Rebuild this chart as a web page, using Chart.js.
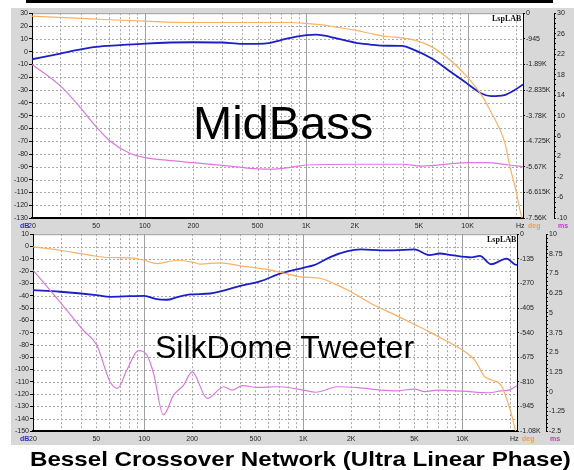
<!DOCTYPE html>
<html>
<head>
<meta charset="utf-8">
<script src="https://cdn.jsdelivr.net/npm/chart.js@4.4.1/dist/chart.umd.min.js"></script>
<style>
  html,body{margin:0;padding:0;background:#fff;}
  body{width:574px;height:470px;position:relative;overflow:hidden;font-family:"Liberation Sans",Arial,sans-serif;}
  .abs{position:absolute;white-space:nowrap;line-height:1;}
  canvas{position:absolute;}
</style>
</head>
<body>
<div class="abs" style="left:26px;top:0;width:527px;height:3px;background:#000"></div>
<div class="abs" style="left:11px;top:8px;width:563px;height:437px;background:#d8d8d8"></div>
<canvas id="c1" width="563" height="223" style="left:11px;top:8px;width:563px;height:223px"></canvas>
<canvas id="c2" width="563" height="216" style="left:11px;top:229px;width:563px;height:216px"></canvas>

<div class="abs" style="left:193px;top:99px;font-size:47px;color:#000">MidBass</div>
<div class="abs" style="left:155px;top:331px;font-size:32px;color:#000">SilkDome Tweeter</div>
<div class="abs" style="left:492px;top:15px;font-size:8px;font-weight:bold;font-family:'Liberation Serif',serif;color:#111">LspLAB</div>
<div class="abs" style="left:487px;top:236px;font-size:8px;font-weight:bold;font-family:'Liberation Serif',serif;color:#111">LspLAB</div>

<div class="abs" style="left:20px;top:222px;font-size:7px;font-weight:bold;color:#3030d0">dB</div>
<div class="abs" style="left:516px;top:222px;font-size:7px;color:#222">Hz</div>
<div class="abs" style="left:528px;top:222px;font-size:7px;font-weight:bold;color:#ff9a30">deg</div>
<div class="abs" style="left:558px;top:222px;font-size:7px;font-weight:bold;color:#cc33cc">ms</div>

<div class="abs" style="left:20px;top:435px;font-size:7px;font-weight:bold;color:#3030d0">dB</div>
<div class="abs" style="left:510px;top:435px;font-size:7px;color:#222">Hz</div>
<div class="abs" style="left:522px;top:435px;font-size:7px;font-weight:bold;color:#ff9a30">deg</div>
<div class="abs" style="left:550px;top:435px;font-size:7px;font-weight:bold;color:#cc33cc">ms</div>

<div id="title" class="abs" style="left:30px;top:448px;font-size:21px;font-weight:bold;color:#000;transform-origin:0 0">Bessel Crossover Network (Ultra Linear Phase)</div>

<script>
// ---------- shared axis data ----------
const xTickValues = [20, 50, 100, 200, 500, 1000, 2000, 5000, 10000];
const xTickLabels = ['20', '50', '100', '200', '500', '1K', '2K', '5K', '10K'];
const xGridFreqs = [30,40,50,60,70,80,90,100,200,300,400,500,600,700,800,900,1000,
                    2000,3000,4000,5000,6000,7000,8000,9000,10000,20000];
const xDecades = [100, 1000, 10000];
const xMin = 20, xMax = 22050;

// ---------- top panel: MidBass ----------
const topDbTicks = [30,20,10,0,-10,-20,-30,-40,-50,-60,-70,-80,-90,-100,-110,-120,-130];
const topDegTicks = [0,-945,-1890,-2835,-3780,-4725,-5670,-6615,-7560];
const topDegLabels = ['0','-945','-1.89K','-2.835K','-3.78K','-4.725K','-5.67K','-6.615K','-7.56K'];
const topMsTicks = [30,26,22,18,14,10,6,2,-2,-6,-10];

const topMagFreq = [20,30,40,50,70,100,200,300,400,500,600,700,800,1000,1150,1300,1500,2000,2500,2920,3900,4700,6000,7600,9600,12200,14000,16900,19600,22050];
const topMagDb   = [-6,-1.5,1.7,3.7,5,6.3,7.3,7.1,6,6,6.8,9,10.7,12.8,13.3,12.4,10.7,7.1,5.5,4.6,4.5,1.1,-5.4,-14.5,-23.6,-32.7,-34.8,-34,-30,-25.7];

const topPhFreq = [20,50,100,200,500,800,1000,1300,1500,2000,2500,3000,3500,3900,4700,6000,7600,9600,12200,13750,17050,18300,19700,21600,22050];
const topPhDeg  = [-111,-221,-295,-343,-343,-343,-380,-443,-505,-627,-750,-848,-880,-910,-996,-1243,-1671,-2250,-3024,-3577,-4806,-5668,-6406,-7512,-7650];

const topGdFreq = [20,30,40,45,50,60,80,100,136,200,337,500,640,800,1000,2000,3900,5200,10000,13000,18000,22050];
const topGdMs   = [20,15.8,11.5,9.5,7.8,5.2,2.7,1.8,1.3,0.8,0.15,-0.4,-0.44,-0.1,0.35,0.5,0.5,0.15,0.8,0.8,0.35,0];

// ---------- bottom panel: SilkDome Tweeter ----------
const botDbTicks = [10,0,-10,-20,-30,-40,-50,-60,-70,-80,-90,-100,-110,-120,-130,-140,-150];
const botDegTicks = [0,-135,-270,-405,-540,-675,-810,-945,-1080];
const botDegLabels = ['0','-135','-270','-405','-540','-675','-810','-945','-1.08K'];
const botMsTicks = [10,8.75,7.5,6.25,5,3.75,2.5,1.25,0,-1.25,-2.5];

const botMagFreq = [20,29.5,50,61,82,100,120,139,161,195,260,403,540,720,1000,1170,1490,1900,2300,3100,3700,5000,6200,7200,8500,11400,12860,15200,18950,21400,22050];
const botMagDb   = [-35.5,-36.8,-39.5,-40.9,-40.4,-40.1,-42.8,-43.3,-41.2,-39,-38.2,-32,-28.2,-21.9,-17.3,-15.2,-8.4,-3.8,-2.4,-3.2,-3.2,-2.4,-7,-5.7,-7,-8.9,-7.6,-14.4,-9.8,-14.6,-15];

const botPhFreq = [20,29.5,50,61,82,100,120,161,205,225,301,403,623,962,1290,1550,1990,2780,3800,5100,6200,8100,10000,11960,13800,15200,17500,19400,20800,21500,22050];
const botPhDeg  = [-69,-88,-121,-128,-130,-143,-161,-143,-155,-164,-157,-174,-197,-234,-243,-270,-316,-389,-444,-499,-536,-590,-636,-691,-782,-800,-828,-928,-1020,-1074,-1090];

const botGdFreq = [20,29.5,41.4,50.3,61,67.9,77.8,92,104,114.5,132,153,177,200,249,317,358,414,513,688,873,1000,1200,1640,2200,3070,3800,5000,5800,7000,10000,14700,17500,19600,21500,22050];
const botGdMs   = [7.72,5.7,3.9,2.96,0.63,0.21,1.37,2.6,2.32,1.16,-1.48,-0.22,0.42,1.26,-0.43,0.31,0.1,0.38,0.27,0.31,0.21,0.1,-0.04,0.31,0.25,0.1,0.05,0.16,0,0.1,0.03,-0.07,0.05,0.1,0.31,0.4];

// ---------- rendering ----------
const BLUE = '#1e1ec8', ORANGE = '#ffb063', MAGENTA = '#dd77e0';
Chart.defaults.font.family = "'Liberation Sans', Arial, sans-serif";
Chart.defaults.font.size = 7;
Chart.defaults.color = '#222';

function pts(f, v) { return f.map((x, i) => ({ x: x, y: v[i] })); }

const panelPlugin = {
  id: 'panel',
  beforeDraw(chart) {
    const ctx = chart.ctx, a = chart.chartArea;
    const xs = chart.scales.x, ys = chart.scales.y;
    ctx.save();
    ctx.fillStyle = '#ffffff';
    ctx.fillRect(a.left, a.top, a.right - a.left, a.bottom - a.top);
    ctx.lineWidth = 1;
    ctx.strokeStyle = '#a9a9a9';
    ctx.setLineDash([2, 2]);
    ys.ticks.forEach(t => {
      const py = Math.round(ys.getPixelForValue(t.value)) + 0.5;
      if (py <= a.top + 1 || py >= a.bottom - 1) return;
      ctx.beginPath(); ctx.moveTo(a.left, py); ctx.lineTo(a.right, py); ctx.stroke();
    });
    xGridFreqs.forEach(f => {
      if (f <= xMin || f >= xMax) return;
      const px = Math.round(xs.getPixelForValue(f)) + 0.5;
      if (xDecades.includes(f)) { ctx.setLineDash([]); ctx.strokeStyle = '#a0a0a0'; }
      else { ctx.setLineDash([2, 2]); ctx.strokeStyle = '#a9a9a9'; }
      ctx.beginPath(); ctx.moveTo(px, a.top); ctx.lineTo(px, a.bottom); ctx.stroke();
    });
    ctx.setLineDash([]);
    ctx.strokeStyle = '#9a9a9a';
    ctx.beginPath(); ctx.moveTo(a.left, a.top + 0.5); ctx.lineTo(a.right, a.top + 0.5); ctx.stroke();
    ctx.restore();
  }
};

function fixed(list) { return s => { s.ticks = list.map(v => ({ value: v })); }; }

function makeChart(id, p) {
  return new Chart(document.getElementById(id), {
    type: 'line',
    data: {
      datasets: [
        { data: pts(p.phF, p.phV), yAxisID: 'yDeg', borderColor: ORANGE, borderWidth: 1.2 },
        { data: pts(p.gdF, p.gdV), yAxisID: 'yMs', borderColor: MAGENTA, borderWidth: 1.2 },
        { data: pts(p.magF, p.magV), yAxisID: 'y', borderColor: BLUE, borderWidth: 1.8 }
      ]
    },
    options: {
      responsive: false, animation: false, events: [],
      layout: { padding: { top: 5, left: 0, right: 0, bottom: 0 }, autoPadding: false },
      plugins: { legend: { display: false }, tooltip: { enabled: false }, title: { display: false } },
      elements: { point: { radius: 0 }, line: { cubicInterpolationMode: 'monotone', fill: false } },
      scales: {
        x: {
          type: 'logarithmic', min: xMin, max: xMax,
          afterBuildTicks: fixed(xTickValues),
          ticks: { autoSkip: false, maxRotation: 0, padding: 4, callback: (v, i) => xTickLabels[i] },
          grid: { display: false, drawTicks: false, drawOnChartArea: false },
          border: { display: true, color: '#000', width: 2 },
          afterFit: s => { s.height = p.xH; }
        },
        y: {
          position: 'left', min: p.dbTicks[p.dbTicks.length - 1], max: p.dbTicks[0],
          afterBuildTicks: fixed(p.dbTicks),
          ticks: { autoSkip: false, padding: 1 },
          grid: { drawOnChartArea: false, tickLength: 3, color: '#000' },
          border: { display: true, color: '#000', width: 1 },
          afterFit: s => { s.width = p.yW; }
        },
        yDeg: {
          position: 'right', weight: 0, min: p.degTicks[p.degTicks.length - 1], max: 0,
          afterBuildTicks: fixed(p.degTicks),
          ticks: { autoSkip: false, padding: 1, callback: (v, i) => p.degLabels[i] },
          grid: { drawOnChartArea: false, tickLength: 2, color: '#000' },
          border: { display: true, color: '#000', width: 1 },
          afterFit: s => { s.width = p.degW; }
        },
        yMs: {
          position: 'right', weight: 1, min: p.msTicks[p.msTicks.length - 1], max: p.msTicks[0],
          afterBuildTicks: s => {
            const out = [];
            const lo = p.msTicks[p.msTicks.length - 1], hi = p.msTicks[0];
            const n = Math.round((hi - lo) / p.msMinor);
            for (let k = 0; k <= n; k++) out.push({ value: +(lo + k * p.msMinor).toFixed(4) });
            s.ticks = out;
          },
          ticks: {
            autoSkip: false, padding: 1,
            callback: v => {
              const hit = p.msTicks.find(t => Math.abs(t - v) < 1e-6);
              return hit === undefined ? '' : String(hit);
            }
          },
          grid: { drawOnChartArea: false, tickLength: 2, color: '#000' },
          border: { display: true, color: '#000', width: 1 },
          afterFit: s => { s.width = p.msW; }
        }
      }
    },
    plugins: [panelPlugin]
  });
}

makeChart('c1', {
  magF: topMagFreq, magV: topMagDb, phF: topPhFreq, phV: topPhDeg, gdF: topGdFreq, gdV: topGdMs,
  dbTicks: topDbTicks, degTicks: topDegTicks, degLabels: topDegLabels, msTicks: topMsTicks, msMinor: 1,
  xH: 13, yW: 21, degW: 31, msW: 20
});
makeChart('c2', {
  magF: botMagFreq, magV: botMagDb, phF: botPhFreq, phV: botPhDeg, gdF: botGdFreq, gdV: botGdMs,
  dbTicks: botDbTicks, degTicks: botDegTicks, degLabels: botDegLabels, msTicks: botMsTicks, msMinor: 0.25,
  xH: 14, yW: 22, degW: 29, msW: 28
});

// stretch the caption to the width it occupies in the reference
(function () {
  const t = document.getElementById('title');
  const w = t.getBoundingClientRect().width;
  if (w > 0) t.style.transform = 'scaleX(' + (541 / w).toFixed(3) + ')';
})();
</script>
</body>
</html>
